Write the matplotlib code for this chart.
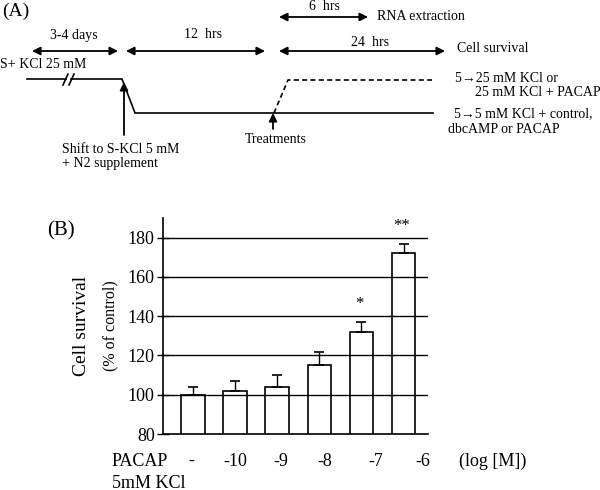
import matplotlib
matplotlib.use("Agg")
import numpy as np
import matplotlib.pyplot as plt
from matplotlib import rc

rc('font', **{'family': 'serif', 'serif': ['Liberation Serif', 'DejaVu Serif'], 'size': 10})
rc('mathtext', fontset='stix')

# panel B data: PACAP dose series in 5 mM KCl
doses = ['-', '-10', '-9', '-8', '-7', '-6']
survival = [100, 102, 104, 115, 132, 172]
sem = [4, 5, 6, 7, 5, 5]
signif = ['', '', '', '', '*', '**']

fig = plt.figure(figsize=(6.0, 4.9), dpi=100)

# overlay in pixel coordinates for the scheme (panel A) and free text
ov = fig.add_axes([0, 0, 1, 1])
ov.set_xlim(0, 600)
ov.set_ylim(490, 0)
ov.axis('off')

lw = 1.2
fs = 10

def darrow(x1, x2, y):
    ov.annotate('', xy=(x1, y), xytext=(x2, y),
                arrowprops=dict(arrowstyle='<|-|>', color='k', lw=1.3,
                                mutation_scale=12, shrinkA=0, shrinkB=0))

def rarrow(x1, x2, y):
    ov.annotate('', xy=(x2, y), xytext=(x1, y),
                arrowprops=dict(arrowstyle='-|>', color='k', lw=1.3,
                                mutation_scale=12, shrinkA=0, shrinkB=0))

def uparrow(x, y1, y2):
    ov.annotate('', xy=(x, y2), xytext=(x, y1),
                arrowprops=dict(arrowstyle='-|>', color='k', lw=1.3,
                                mutation_scale=12, shrinkA=0, shrinkB=0))

ov.text(2, 11, '(A)', fontsize=14, va='center', ha='left')

ov.text(74, 35, '3-4 days', fontsize=fs, ha='center', va='center')
darrow(32, 118, 51)
ov.text(203, 35, '12  hrs', fontsize=fs, ha='center', va='center')
darrow(126, 265, 51)
ov.text(324, 6, '6  hrs', fontsize=fs, ha='center', va='center')
darrow(279, 368, 17)
ov.text(377, 17, 'RNA extraction', fontsize=fs, ha='left', va='center')
ov.text(370, 42, '24  hrs', fontsize=fs, ha='center', va='center')
darrow(279, 445, 51)
ov.text(457, 49, 'Cell survival', fontsize=fs, ha='left', va='center')

ov.text(0, 64, 'S+ KCl 25 mM', fontsize=fs, ha='left', va='center')

# KCl level lines
ov.plot([27, 66], [79, 79], color='k', lw=lw)
ov.plot([71, 122, 135, 433], [79, 79, 113, 113], color='k', lw=lw)
ov.plot([63, 68], [85, 74], color='k', lw=lw)
ov.plot([69, 74], [85, 74], color='k', lw=lw)
ov.plot([274, 288, 432], [113, 80, 80], color='k', lw=lw, ls=(0, (3, 2)))

uparrow(124, 135, 82)
ov.text(62, 149, 'Shift to S-KCl 5 mM', fontsize=fs, ha='left', va='center')
ov.text(62, 163, '+ N2 supplement', fontsize=fs, ha='left', va='center')
uparrow(273, 129, 113)
ov.text(245, 139, 'Treatments', fontsize=fs, ha='left', va='center')

ov.text(455, 79, '5\u219225 mM KCl or', fontsize=fs, ha='left', va='center')
ov.text(475, 93, '25 mM KCl + PACAP', fontsize=fs, ha='left', va='center')
ov.text(454, 114, '5\u21925 mM KCl + control,', fontsize=fs, ha='left', va='center')
ov.text(448, 129, 'dbcAMP or PACAP', fontsize=fs, ha='left', va='center')

# panel B labels
ov.text(47, 231, '(B)', fontsize=15, ha='left', va='center')
ov.text(82, 326, 'Cell survival', fontsize=14, rotation=90, ha='center', va='center')
ov.text(110, 326, '(% of control)', fontsize=11.5, rotation=90, ha='center', va='center')
ov.text(112, 461, 'PACAP', fontsize=13, ha='left', va='center')
ov.text(112, 483, '5mM KCl', fontsize=13, ha='left', va='center')
label_x = [191, 235, 281, 325, 376, 423]
for x, d in zip(label_x, doses):
    ov.text(x, 461, d, fontsize=13, ha='center', va='center')
ov.text(459, 461, '(log [M])', fontsize=13, ha='left', va='center')

# panel B bars
ax = fig.add_axes([163 / 600, 56 / 490, 265 / 600, 216 / 490])
ax.patch.set_alpha(0)
xpos = np.arange(len(doses))
ax.bar(xpos, survival, width=0.56, bottom=0, color='white', edgecolor='k',
       lw=1.2, zorder=2)
ax.errorbar(xpos, survival, yerr=[np.zeros(len(sem)), sem], fmt='none',
            ecolor='k', elinewidth=1.0, capsize=3.5, capthick=1.2, zorder=3)
for x, m, e, s in zip(xpos, survival, sem, signif):
    if s:
        ax.text(x - 0.05, m + e + 9, s, fontsize=12, ha='center', va='center')
ax.set_xlim(-0.713, 5.58)
ax.set_ylim(80, 190)
ax.set_yticks([80, 100, 120, 140, 160, 180])
ax.set_xticks([])
for yv in [100, 120, 140, 160, 180]:
    ax.axhline(yv, color='k', lw=1.0, zorder=4)
ax.spines['top'].set_visible(False)
ax.spines['right'].set_visible(False)
ax.spines['left'].set_linewidth(1.2)
ax.spines['bottom'].set_linewidth(1.2)
ax.tick_params(axis='y', direction='inout', length=8, width=1.0, labelsize=13, pad=2)

plt.savefig('out.png', dpi=100)
